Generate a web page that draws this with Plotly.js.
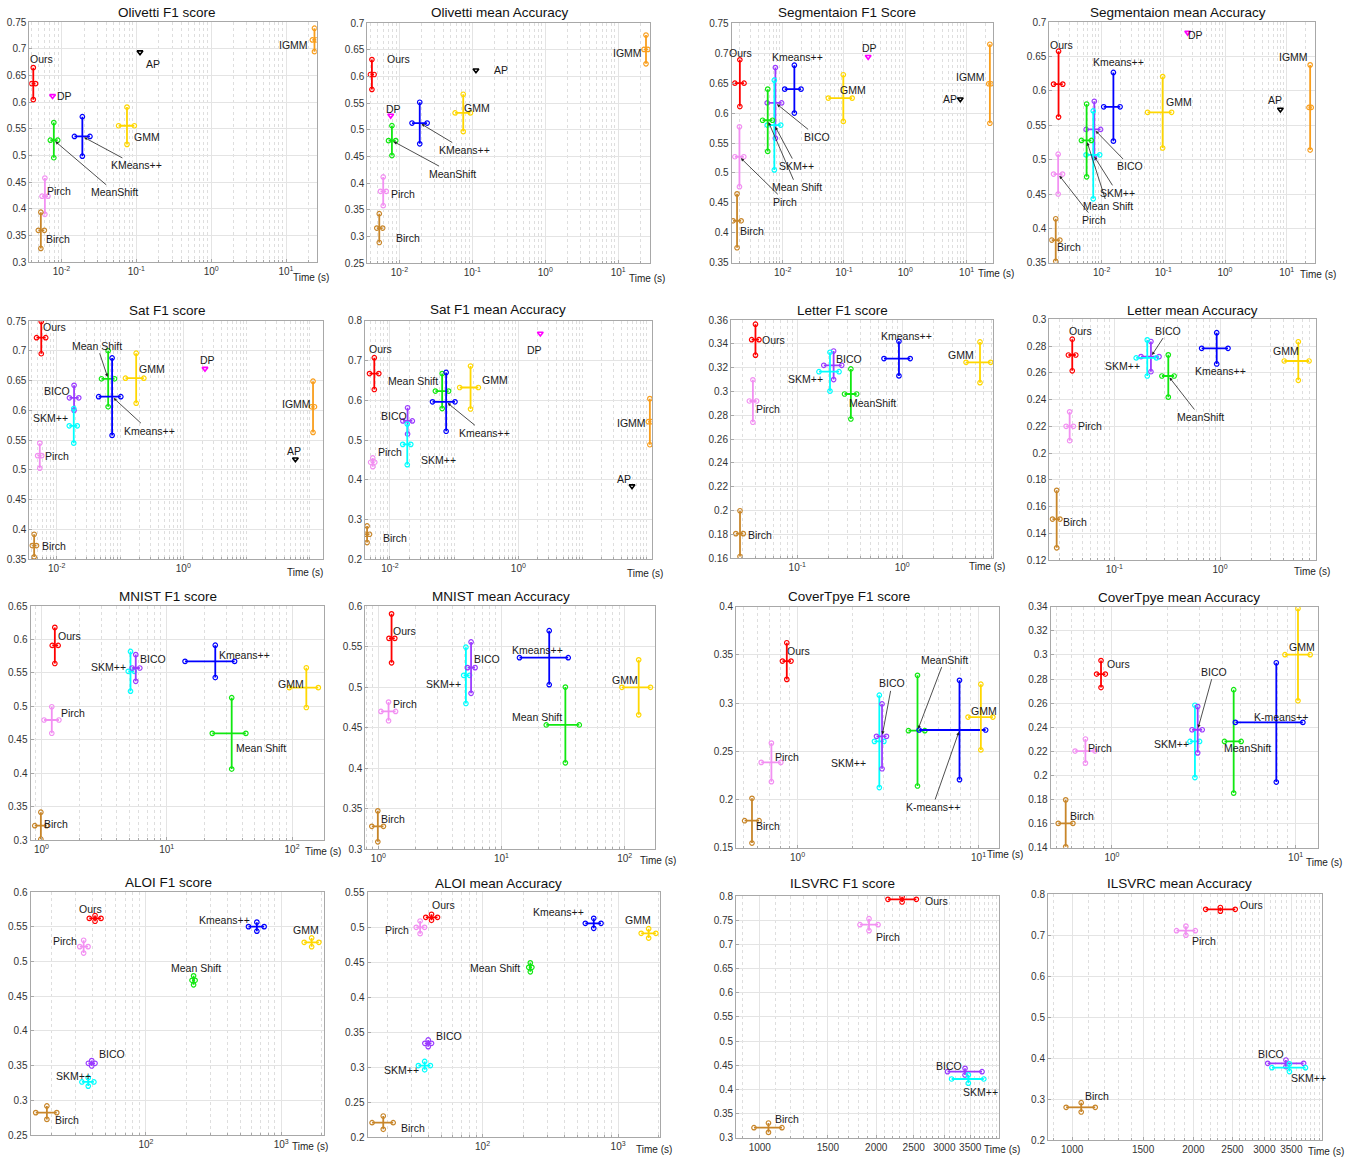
<!DOCTYPE html>
<html><head><meta charset="utf-8">
<script src="https://cdn.plot.ly/plotly-3.0.1.min.js"></script>
<style>body{margin:0;background:#fff}#chart{width:1354px;height:1160px}</style>
</head><body><div id="chart"></div>
<script>
// ---------------- DATA ----------------
// Olivetti
const olivetti_methods = ['Ours','DP','AP','IGMM','GMM','KMeans++','MeanShift','Pirch','Birch'];
const olivetti_time    = [0.0042, 0.0076, 0.112, 24, 0.075, 0.019, 0.0079, 0.0060, 0.0053];
const olivetti_timeLo  = [0.0040, 0.0076, 0.112, 22.5, 0.058, 0.0149, 0.0071, 0.0055, 0.0049];
const olivetti_timeHi  = [0.0045, 0.0076, 0.112, 25.5, 0.094, 0.024, 0.0089, 0.0066, 0.0059];
const olivetti_f1      = [0.635, 0.612, 0.694, 0.717, 0.556, 0.536, 0.529, 0.424, 0.360];
const olivetti_f1Err   = [0.030, 0, 0, 0.022, 0.035, 0.037, 0.033, 0.034, 0.034];
const olivetti_acc     = [0.604, 0.527, 0.612, 0.651, 0.532, 0.513, 0.480, 0.385, 0.316];
const olivetti_accErr  = [0.028, 0, 0, 0.027, 0.035, 0.039, 0.028, 0.027, 0.027];
const olivetti_xTicks  = [0.01, 0.1, 1, 10];

// Segmentation
const seg_methods = ['Ours','Kmeans++','DP','GMM','IGMM','AP','BICO','SKM++','Mean Shift','Pirch','Birch'];
const seg_time    = [0.0020, 0.0155, 0.248, 0.0975, 24, 7.9, 0.0076, 0.0073, 0.0057, 0.00197, 0.0018];
const seg_timeLo  = [0.00166, 0.0108, 0.248, 0.0555, 23, 7.9, 0.0056, 0.0056, 0.0047, 0.00166, 0.00155];
const seg_timeHi  = [0.00234, 0.0199, 0.248, 0.136, 25, 7.9, 0.0096, 0.0093, 0.0068, 0.00232, 0.0021];
const seg_f1      = [0.650, 0.640, 0.694, 0.625, 0.649, 0.623, 0.617, 0.580, 0.588, 0.527, 0.420];
const seg_f1Err   = [0.039, 0.040, 0, 0.039, 0.066, 0, 0.059, 0.075, 0.052, 0.050, 0.045];
const seg_acc     = [0.610, 0.577, 0.685, 0.569, 0.576, 0.573, 0.544, 0.507, 0.528, 0.479, 0.383];
const seg_accErr  = [0.048, 0.050, 0, 0.052, 0.062, 0, 0.041, 0.064, 0.053, 0.029, 0.031];
const seg_xTicks  = [0.01, 0.1, 1, 10];

// Sat
const sat_methods = ['Ours','Mean Shift','Kmeans++','GMM','DP','IGMM','AP','BICO','SKM++','Pirch','Birch'];
const sat_time    = [0.0057, 0.065, 0.075, 0.18, 2.2, 112, 59, 0.0188, 0.0186, 0.0054, 0.0044];
const sat_timeLo  = [0.0048, 0.051, 0.046, 0.122, 2.2, 106, 59, 0.0159, 0.0158, 0.0050, 0.0041];
const sat_timeHi  = [0.0067, 0.082, 0.103, 0.238, 2.2, 118, 59, 0.0223, 0.0211, 0.0058, 0.0048];
const sat_f1      = [0.722, 0.653, 0.623, 0.654, 0.670, 0.606, 0.518, 0.621, 0.574, 0.524, 0.373];
const sat_f1Err   = [0.027, 0.047, 0.065, 0.042, 0, 0.043, 0, 0.021, 0.029, 0.021, 0.019];
const sat_acc     = [0.667, 0.623, 0.596, 0.632, 0.768, 0.546, 0.384, 0.548, 0.489, 0.444, 0.263];
const sat_accErr  = [0.040, 0.044, 0.074, 0.054, 0, 0.058, 0, 0.033, 0.051, 0.011, 0.021];
const sat_xTicks  = [0.01, 1];

// Letter
const letter_methods = ['Ours','Pirch','Birch','BICO','SKM++','MeanShift','Kmeans++','GMM'];
const letter_time    = [0.040, 0.0378, 0.0285, 0.222, 0.205, 0.324, 0.93, 5.5];
const letter_timeLo  = [0.0368, 0.035, 0.026, 0.179, 0.161, 0.282, 0.67, 4.05];
const letter_timeHi  = [0.0432, 0.041, 0.0306, 0.265, 0.25, 0.368, 1.19, 6.95];
const letter_f1      = [0.3435, 0.292, 0.1807, 0.322, 0.3166, 0.2979, 0.3276, 0.3245];
const letter_f1Err   = [0.013, 0.0178, 0.0192, 0.012, 0.0163, 0.021, 0.0145, 0.0171];
const letter_acc     = [0.2733, 0.220, 0.1506, 0.2721, 0.2711, 0.2576, 0.2783, 0.2688];
const letter_accErr  = [0.0118, 0.0108, 0.0215, 0.0113, 0.0135, 0.0158, 0.0117, 0.0144];
const letter_xTicks  = [0.1, 1];

// MNIST
const mnist_methods = ['Ours','Pirch','Birch','SKM++','BICO','Kmeans++','Mean Shift','GMM'];
const mnist_time    = [1.28, 1.21, 0.99, 5.14, 5.66, 24.4, 33, 130];
const mnist_timeLo  = [1.22, 1.05, 0.885, 4.93, 5.3, 14, 23.1, 95];
const mnist_timeHi  = [1.36, 1.38, 1.10, 5.5, 6.1, 34.8, 42.8, 162];
const mnist_f1      = [0.591, 0.4795, 0.3214, 0.5523, 0.5573, 0.5672, 0.4595, 0.5279];
const mnist_f1Err   = [0.027, 0.0198, 0.0202, 0.0297, 0.020, 0.0242, 0.0534, 0.0297];
const mnist_acc     = [0.5601, 0.470, 0.3283, 0.5145, 0.524, 0.5363, 0.4533, 0.4997];
const mnist_accErr  = [0.0302, 0.0115, 0.0191, 0.0347, 0.0317, 0.0333, 0.0467, 0.0339];
const mnist_xTicks  = [1, 10, 100];

// CoverType
const cover_methods = ['Ours','Pirch','Birch','SKM++','BICO','MeanShift','K-means++','GMM'];
const cover_time    = [0.872, 0.717, 0.56, 2.83, 2.93, 4.6, 7.85, 10.3];
const cover_timeLo  = [0.825, 0.63, 0.51, 2.66, 2.73, 4.1, 4.7, 8.75];
const cover_timeHi  = [0.92, 0.808, 0.613, 3.0, 3.1, 5.05, 10.95, 12.0];
const cover_f1      = [0.3436, 0.2385, 0.178, 0.2603, 0.2655, 0.2714, 0.2721, 0.2855];
const cover_f1Err   = [0.019, 0.020, 0.0232, 0.0479, 0.0336, 0.0574, 0.0515, 0.0341];
const cover_acc     = [0.2841, 0.2202, 0.1602, 0.2282, 0.2379, 0.2282, 0.244, 0.3002];
const cover_accErr  = [0.0112, 0.010, 0.0195, 0.030, 0.0192, 0.0429, 0.0495, 0.0383];
const cover_xTicks  = [1, 10];

// ALOI
const aloi_methods = ['Ours','Pirch','Birch','BICO','SKM++','Mean Shift','Kmeans++','GMM'];
const aloi_time    = [42, 34.6, 18.5, 39.7, 37.4, 225, 661, 1680];
const aloi_timeLo  = [38.1, 32.4, 15.3, 37.5, 33.6, 219, 573, 1480];
const aloi_timeHi  = [46.5, 37.3, 21.9, 42, 41.2, 231, 748, 1900];
const aloi_f1      = [0.562, 0.5213, 0.2822, 0.3533, 0.3264, 0.4728, 0.5501, 0.5275];
const aloi_f1Err   = [0.0041, 0.0092, 0.0097, 0.0039, 0.006, 0.0065, 0.0065, 0.0063];
const aloi_acc     = [0.5139, 0.4996, 0.2209, 0.3341, 0.3023, 0.4425, 0.5053, 0.491];
const aloi_accErr  = [0.0043, 0.009, 0.0095, 0.0048, 0.006, 0.0064, 0.0071, 0.0067];
const aloi_xTicks  = [100, 1000];

// ILSVRC
const ilsvrc_methods = ['Ours','Pirch','Birch','BICO','SKM++'];
const ilsvrc_time    = [2333, 1916, 1053, 3394, 3462];
const ilsvrc_timeLo  = [2145, 1816, 966, 3058, 3133];
const ilsvrc_timeHi  = [2540, 2022, 1141, 3755, 3795];
const ilsvrc_f1      = [0.7931, 0.7407, 0.3207, 0.4366, 0.4214];
const ilsvrc_f1Err   = [0.0055, 0.0124, 0.0097, 0.0069, 0.0086];
const ilsvrc_acc     = [0.7626, 0.7106, 0.2797, 0.387, 0.3764];
const ilsvrc_accErr  = [0.0045, 0.011, 0.0114, 0.0081, 0.0094];
const ilsvrc_xTicks  = [1000, 1500, 2000, 2500, 3000, 3500];

// ---------------- STYLE / LAYOUT ----------------
const W = 1354, H = 1160;
const FONT = 'Liberation Sans, Arial, Helvetica, sans-serif';
const COLORS = {
  'ours':'#FF0000','dp':'#FF00FF','ap':'#000000','igmm':'#F99E1C','gmm':'#FFD700',
  'kmeans++':'#0000FF','meanshift':'#11E811','pirch':'#F290F2','birch':'#C8862A',
  'bico':'#9B3CFF','skm++':'#00FFFF'
};
function colorOf(n){ return COLORS[n.toLowerCase().replace(/[\s\-]/g,'')] || '#000'; }

function ds(m,t,lo,hi,f1,f1e,acc,acce,ticks,logTicks){
  return {m,t,lo,hi,f1,f1e,acc,acce,ticks,logTicks};
}
const DATA = {
  olivetti: ds(olivetti_methods,olivetti_time,olivetti_timeLo,olivetti_timeHi,olivetti_f1,olivetti_f1Err,olivetti_acc,olivetti_accErr,olivetti_xTicks,true),
  seg: ds(seg_methods,seg_time,seg_timeLo,seg_timeHi,seg_f1,seg_f1Err,seg_acc,seg_accErr,seg_xTicks,true),
  sat: ds(sat_methods,sat_time,sat_timeLo,sat_timeHi,sat_f1,sat_f1Err,sat_acc,sat_accErr,sat_xTicks,true),
  letter: ds(letter_methods,letter_time,letter_timeLo,letter_timeHi,letter_f1,letter_f1Err,letter_acc,letter_accErr,letter_xTicks,true),
  mnist: ds(mnist_methods,mnist_time,mnist_timeLo,mnist_timeHi,mnist_f1,mnist_f1Err,mnist_acc,mnist_accErr,mnist_xTicks,true),
  cover: ds(cover_methods,cover_time,cover_timeLo,cover_timeHi,cover_f1,cover_f1Err,cover_acc,cover_accErr,cover_xTicks,true),
  aloi: ds(aloi_methods,aloi_time,aloi_timeLo,aloi_timeHi,aloi_f1,aloi_f1Err,aloi_acc,aloi_accErr,aloi_xTicks,true),
  ilsvrc: ds(ilsvrc_methods,ilsvrc_time,ilsvrc_timeLo,ilsvrc_timeHi,ilsvrc_f1,ilsvrc_f1Err,ilsvrc_acc,ilsvrc_accErr,ilsvrc_xTicks,false)
};

// px: [left, right, top, bottom] of plot area in pixels; label offsets [dx, dy(screen down), arrow]
const panels = [
 {d:'olivetti',k:'f1',title:'Olivetti F1 score',px:[29.3,316.7,22.3,262.3],xr:[-2.43,1.41],yr:[0.3,0.75],dt:0.05,tp:[167,12],tl:[311,277],
  lab:{'Ours':[8,-25],'DP':[12,0],'AP':[13,12],'IGMM':[-21,5],'GMM':[20,11],'KMeans++':[54,29,1],'MeanShift':[61,52,1],'Pirch':[14,-5],'Birch':[17,9]}},
 {d:'olivetti',k:'acc',title:'Olivetti mean Accuracy',px:[367.3,650,23.3,263.3],xr:[-2.44,1.435],yr:[0.25,0.7],dt:0.05,tp:[500,13],tl:[647,278],
  lab:{'Ours':[27,-16],'DP':[3,-7],'AP':[25,0],'IGMM':[-19,4],'GMM':[14,-5],'KMeans++':[45,27,1],'MeanShift':[61,33,1],'Pirch':[20,3],'Birch':[29,10]}},
 {d:'seg',k:'f1',title:'Segmentaion F1 Score',px:[731.7,993.3,23.3,262.7],xr:[-2.832,1.436],yr:[0.35,0.75],dt:0.05,tp:[847,13],tl:[996,274],
  lab:{'Ours':[1,-30],'Kmeans++':[3,-32],'DP':[1,-9],'GMM':[10,-8],'IGMM':[-19,-7],'AP':[-10,0],'BICO':[42,34,1],'SKM++':[22,41,1],'Mean Shift':[29,67,1],'Pirch':[46,45,1],'Birch':[15,10]}},
 {d:'seg',k:'acc',title:'Segmentaion mean Accuracy',px:[1049.3,1315,22.3,262.7],xr:[-2.849,1.459],yr:[0.35,0.7],dt:0.05,tp:[1178,13],tl:[1318,275],
  lab:{'Ours':[3,-39],'DP':[8,2],'Kmeans++':[5,-45],'GMM':[16,-10],'IGMM':[-17,-50],'AP':[-5,-10],'BICO':[36,37,1],'SKM++':[24,38,1],'Mean Shift':[21,66,1],'Pirch':[36,46,1],'Birch':[13,7]}},
 {d:'sat',k:'f1',title:'Sat F1 score',px:[29.3,322.7,321,559.3],xr:[-2.433,2.202],yr:[0.35,0.75],dt:0.05,tp:[167,310.7],tl:[305,572.7],
  lab:{'Ours':[13,-11],'Mean Shift':[-11,-33,1],'Kmeans++':[37,34,1],'GMM':[16,-9],'DP':[3,-9],'IGMM':[-17,-3],'AP':[-1,-8],'BICO':[-17,-7],'SKM++':[-23,-8],'Pirch':[17,0],'Birch':[20,0]}},
 {d:'sat',k:'acc',title:'Sat F1 mean Accuracy',px:[365,652.3,320.7,559.3],xr:[-2.389,2.087],yr:[0.2,0.8],dt:0.1,tp:[498,309.3],tl:[645,573],
  lab:{'Ours':[6,-25],'DP':[-6,17],'Mean Shift':[-29,-10],'Kmeans++':[38,31,1],'GMM':[24,-8],'IGMM':[-18,1],'AP':[-8,-7],'BICO':[-14,-5],'SKM++':[31,16],'Pirch':[17,-10],'Birch':[28,4]}},
 {d:'letter',k:'f1',title:'Letter F1 score',px:[731,993.3,320,558.3],xr:[-1.631,0.867],yr:[0.16,0.36],dt:0.02,tp:[842,310.7],tl:[987,566.7],
  lab:{'Ours':[18,0],'Pirch':[15,8],'Birch':[20,1],'BICO':[15,-6],'SKM++':[-24,7],'MeanShift':[22,9],'Kmeans++':[8,-23],'GMM':[-19,-7]}},
 {d:'letter',k:'acc',title:'Letter mean Accuracy',px:[1049.3,1315.7,319.3,560],xr:[-1.615,0.905],yr:[0.12,0.3],dt:0.02,tp:[1192.5,310.7],tl:[1311.7,571.7],
  lab:{'Ours':[8,-24],'Pirch':[20,0],'Birch':[18,3],'SKM++':[-25,8],'BICO':[17,-26,1],'MeanShift':[32,41,1],'Kmeans++':[4,23],'GMM':[-12,-10]}},
 {d:'mnist',k:'f1',title:'MNIST F1 score',px:[30.5,323.5,606,840],xr:[-0.087,2.251],yr:[0.3,0.65],dt:0.05,tp:[168,596],tl:[323,851.7],
  lab:{'Ours':[15,-9],'Pirch':[21,-7],'Birch':[15,-2],'SKM++':[-22,-4],'BICO':[17,-9],'Kmeans++':[29,-6],'Mean Shift':[29,15],'GMM':[-15,-4]}},
 {d:'mnist',k:'acc',title:'MNIST mean Accuracy',px:[365.3,655.2,606,849.3],xr:[-0.106,2.248],yr:[0.3,0.6],dt:0.05,tp:[501,596],tl:[658,860.7],
  lab:{'Ours':[13,-7],'Pirch':[16,-7],'Birch':[15,-7],'SKM++':[-22,9],'BICO':[16,-9],'Kmeans++':[-12,-8],'Mean Shift':[-28,-8],'GMM':[-14,-7]}},
 {d:'cover',k:'f1',title:'CoverTpye F1 score',px:[736.2,998.8,606.7,847.7],xr:[-0.339,1.112],yr:[0.15,0.4],dt:0.05,tp:[849,596.7],tl:[1005,855],
  lab:{'Ours':[12,-10],'Pirch':[16,-5],'Birch':[16,5],'SKM++':[-31,22],'BICO':[10,-53,1],'MeanShift':[27,-71,1],'K-means++':[-27,77,1],'GMM':[3,-6]}},
 {d:'cover',k:'acc',title:'CoverTpye mean Accuracy',px:[1050.6,1318.4,606.7,847.7],xr:[-0.334,1.124],yr:[0.14,0.34],dt:0.02,tp:[1179.4,597],tl:[1324.3,862.7],
  lab:{'Ours':[17,-10],'Pirch':[15,-3],'Birch':[16,-7],'SKM++':[-23,3],'BICO':[16,-58,1],'MeanShift':[14,7],'K-means++':[5,-5],'GMM':[4,-8]}},
 {d:'aloi',k:'f1',title:'ALOI F1 score',px:[30.5,323.9,892,1135],xr:[1.146,3.316],yr:[0.25,0.6],dt:0.05,tp:[168.3,882.7],tl:[310,1146],
  lab:{'Ours':[-5,-9],'Pirch':[-19,-6],'Birch':[20,7],'BICO':[20,-9],'SKM++':[-15,-6],'Mean Shift':[2,-12],'Kmeans++':[-32,-7],'GMM':[-6,-12]}},
 {d:'aloi',k:'acc',title:'ALOI mean Accuracy',px:[367.5,660.4,892,1137.3],xr:[1.151,3.312],yr:[0.2,0.55],dt:0.05,tp:[498.5,883],tl:[654,1149.3],
  lab:{'Ours':[12,-12],'Pirch':[-23,3],'Birch':[30,5],'BICO':[21,-7],'SKM++':[-23,4],'Mean Shift':[-35,1],'Kmeans++':[-35,-11],'GMM':[-11,-13]}},
 {d:'ilsvrc',k:'f1',title:'ILSVRC F1 score',px:[736.2,998.8,896,1137.7],xr:[2.939,3.618],yr:[0.3,0.8],dt:0.05,tp:[842.6,883],tl:[1002,1149.3],
  lab:{'Ours':[34,2],'Pirch':[19,12],'Birch':[19,-9],'BICO':[-16,-6],'SKM++':[12,13]}},
 {d:'ilsvrc',k:'acc',title:'ILSVRC mean Accuracy',px:[1048,1321.5,894,1140],xr:[2.94,3.619],yr:[0.2,0.8],dt:0.1,tp:[1179.6,883],tl:[1325.8,1151.7],
  lab:{'Ours':[31,-4],'Pirch':[18,10],'Birch':[16,-11],'BICO':[-15,-9],'SKM++':[19,10]}}
];

const traces = [];
const layout = {
  width: W, height: H, margin:{l:0,r:0,t:0,b:0}, showlegend:false,
  paper_bgcolor:'#fff', plot_bgcolor:'#fff', font:{family:FONT, color:'#262626'},
  annotations: []
};
const AXC = '#a8a8a8';

panels.forEach((p, idx) => {
  const i = idx + 1;
  const xa = i === 1 ? 'x' : 'x' + i;
  const ya = i === 1 ? 'y' : 'y' + i;
  const d = DATA[p.d];
  const sc = d[p.k], er = d[p.k + 'e'];
  const [x0, x1, y0, y1] = p.px;

  // minor grid values
  let minor = [];
  if (d.logTicks) {
    for (let e = Math.floor(p.xr[0]); e <= Math.ceil(p.xr[1]); e++) {
      for (let m = 1; m <= 9; m++) {
        const v = m * Math.pow(10, e);
        const lv = Math.log10(v);
        if (lv > p.xr[0] && lv < p.xr[1] && !d.ticks.some(t => Math.abs(t - v) / v < 1e-9)) minor.push(v);
      }
    }
  } else {
    for (let v = 800; v <= 4200; v += 100) if (d.ticks.indexOf(v) < 0) minor.push(v);
  }
  const ticktext = d.ticks.map(v => d.logTicks ? '10<sup>' + Math.round(Math.log10(v)) + '</sup>' : String(v));

  layout['xaxis' + (i === 1 ? '' : i)] = {
    type:'log', domain:[x0 / W, x1 / W], range:p.xr, anchor:ya,
    tickmode:'array', tickvals:d.ticks, ticktext:ticktext,
    tickfont:{size:10, color:'#333', family:FONT},
    showline:true, mirror:true, linecolor:AXC, linewidth:1,
    ticks:'inside', ticklen:3, tickcolor:AXC,
    showgrid:true, gridcolor:'#e4e4e4', gridwidth:1, zeroline:false, fixedrange:true,
    minor:{tickmode:'array', tickvals:minor, showgrid:true, gridcolor:'#dedede', griddash:'dot', gridwidth:1, ticks:'inside', ticklen:2, tickcolor:AXC}
  };
  layout['yaxis' + (i === 1 ? '' : i)] = {
    domain:[1 - y1 / H, 1 - y0 / H], range:p.yr, anchor:xa, dtick:p.dt, tick0:0,
    tickfont:{size:10, color:'#333', family:FONT},
    showline:true, mirror:true, linecolor:AXC, linewidth:1,
    ticks:'inside', ticklen:3, tickcolor:AXC,
    showgrid:true, gridcolor:'#e4e4e4', gridwidth:1, zeroline:false, fixedrange:true
  };

  d.m.forEach((name, j) => {
    const c = colorOf(name);
    const t = d.t[j], lo = d.lo[j], hi = d.hi[j], s = sc[j], e = er[j];
    if (e === 0 && lo === hi) {
      traces.push({x:[t], y:[s], xaxis:xa, yaxis:ya, type:'scatter', mode:'markers', hoverinfo:'skip',
        marker:{symbol:'triangle-down-open', size:5, color:c, line:{width:1.6, color:c}}});
    } else {
      traces.push({x:[lo, hi, null, t, t], y:[s, s, null, s - e, s + e], xaxis:xa, yaxis:ya,
        type:'scatter', mode:'lines+markers', connectgaps:false, hoverinfo:'skip',
        line:{color:c, width:1.8},
        marker:{symbol:'circle-open', size:4.5, color:c, line:{width:1.2, color:c}}});
    }
    const L = p.lab[name];
    if (L) {
      const a = {xref:xa, yref:ya, x:Math.log10(t), y:s, text:name,
        font:{size:10.5, color:'#1a1a1a', family:FONT}};
      if (L[2]) {
        Object.assign(a, {showarrow:true, ax:L[0], ay:L[1], arrowhead:2, arrowsize:0.8, arrowwidth:0.8,
          arrowcolor:'#222', standoff:2});
      } else {
        Object.assign(a, {showarrow:false, xshift:L[0], yshift:-L[1], xanchor:'center', yanchor:'middle'});
      }
      layout.annotations.push(a);
    }
  });

  layout.annotations.push({xref:'paper', yref:'paper', x:p.tp[0] / W, y:1 - p.tp[1] / H, text:p.title,
    showarrow:false, xanchor:'center', yanchor:'middle', font:{size:13.5, color:'#111', family:FONT}});
  layout.annotations.push({xref:'paper', yref:'paper', x:p.tl[0] / W, y:1 - p.tl[1] / H, text:'Time (s)',
    showarrow:false, xanchor:'center', yanchor:'middle', font:{size:10, color:'#222', family:FONT}});
});

Plotly.newPlot('chart', traces, layout, {staticPlot:true, displayModeBar:false});
</script>
</body></html>
